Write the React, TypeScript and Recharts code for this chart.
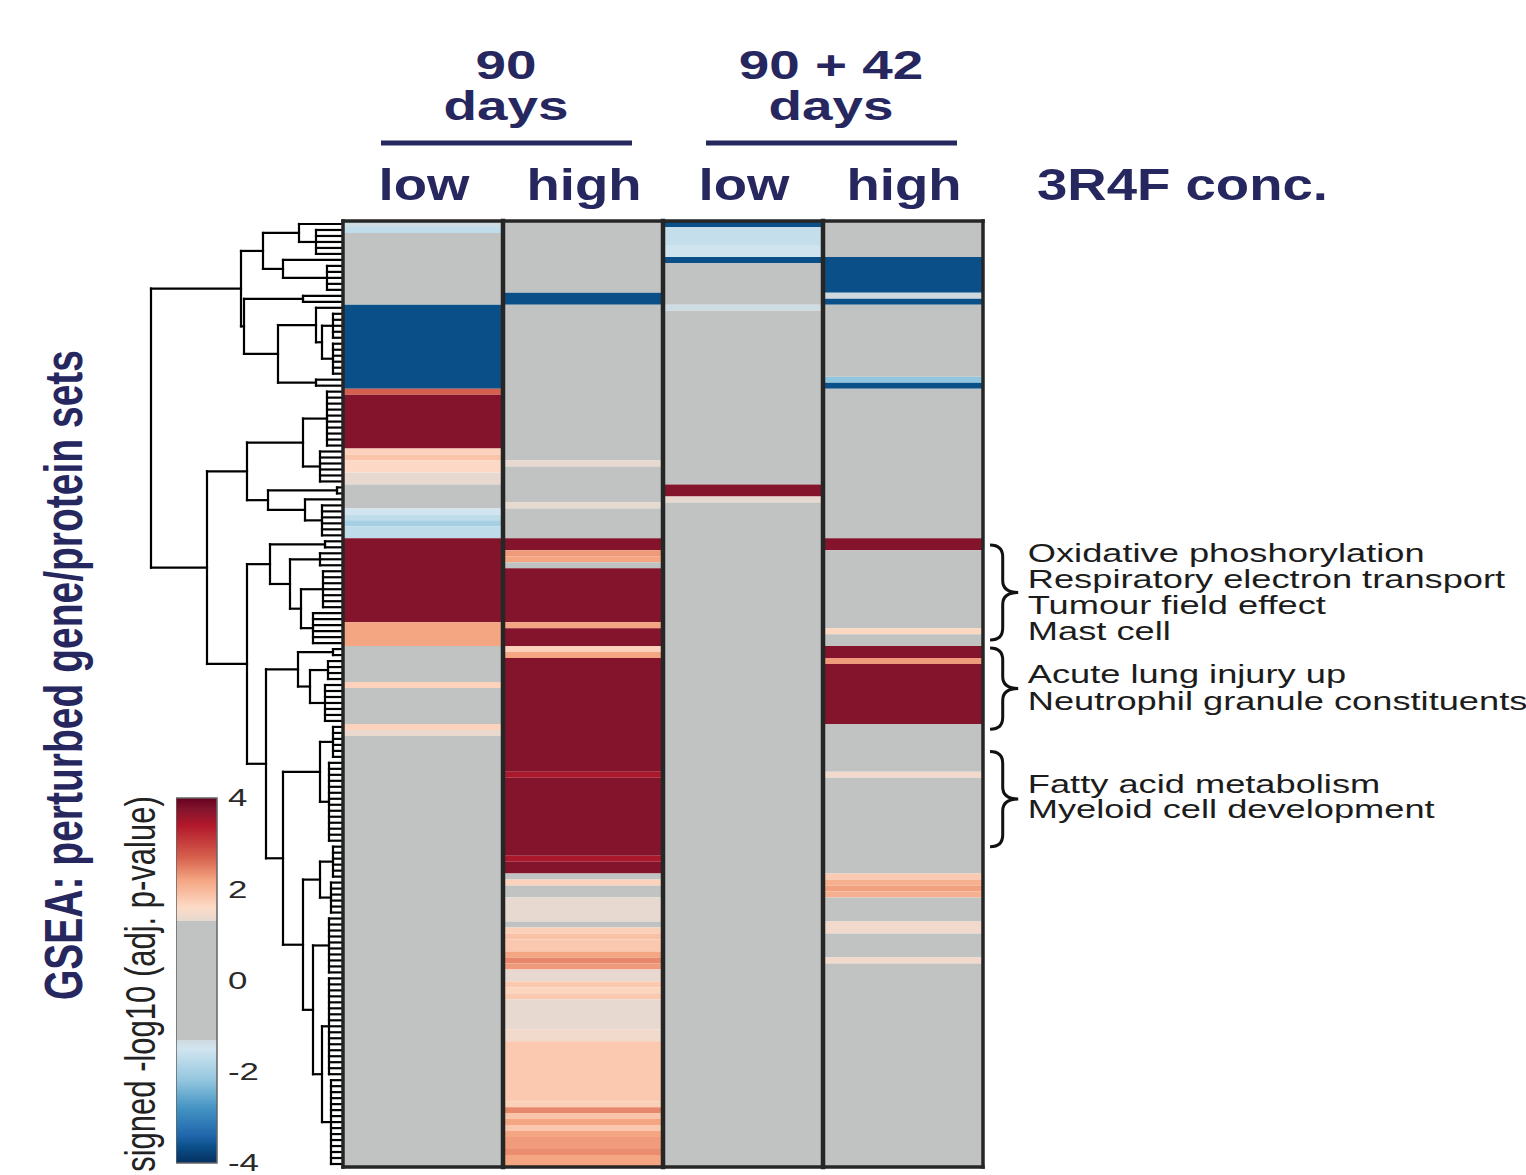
import React from "react"
import { ComposedChart, XAxis, YAxis, ReferenceArea, ReferenceLine, ReferenceDot, Scatter } from "recharts"

// ---- data ----
const N_ROWS = 158
const timeGroups = [["90", "days"], ["90 + 42", "days"]]
const concLevels = ["low", "high", "low", "high"]
const concTitle = "3R4F conc."

// signed -log10(adj. p-value), run-length coded top to bottom: [rows, value]
const runs90Low = [
  [1, -1.35], [1, -1.7], [12, 0], [14, -3.65], [1, 2.7], [9, 3.75], [1, 1.7], [1, 1.86], [2, 1.62], [2, 1.33],
  [4, 0], [1, -1.5], [1, -1.7], [1, -1.98], [2, -1.7], [14, 3.75], [4, 2.2], [6, 0], [1, 1.7], [6, 0],
  [1, 1.7], [1, 1.35], [72, 0],
]
const runs90High = [
  [12, 0], [2, -3.65], [26, 0], [1, 1.33], [6, 0], [1, 1.3], [5, 0], [2, 3.75], [1, 2.28], [1, 2.2],
  [1, 0], [9, 3.75], [1, 2.2], [3, 3.75], [1, 1.7], [1, 2.2], [19, 3.75], [1, 3.45], [13, 3.75], [1, 3.45],
  [2, 3.75], [1, 0], [1, 1.7], [2, 0], [4, 1.33], [1, 0], [1, 1.72], [1, 1.89], [2, 1.81], [1, 2.2],
  [1, 2.42], [1, 2.28], [2, 1.33], [1, 1.8], [1, 1.67], [1, 1.8], [5, 1.33], [2, 1.45], [10, 1.8], [1, 1.72],
  [1, 2.42], [1, 1.85], [1, 2.2], [1, 1.83], [1, 2.2], [2, 2.27], [1, 2.38], [2, 2.2],
]
const runs132Low = [
  [1, -3.65], [3, -1.65], [2, -1.52], [1, -3.65], [7, 0], [1, -1.35], [29, 0], [2, 3.75], [1, 1.33], [111, 0],
]
const runs132High = [
  [6, 0], [6, -3.65], [1, -1.3], [1, -3.65], [12, 0], [1, -2.2], [1, -3.65], [25, 0], [2, 3.75], [13, 0],
  [1, 1.65], [2, 0], [2, 3.75], [1, 2.28], [10, 3.75], [8, 0], [1, 1.45], [16, 0], [1, 1.78], [1, 2.08],
  [1, 2.23], [1, 2.08], [4, 0], [2, 1.45], [4, 0], [1, 1.45], [34, 0],
]
const columnRuns = [runs90Low, runs90High, runs132Low, runs132High]

// dendrogram: leaf = row index, b(first,last,h) = leaves joined at h, n(h, ...kids) = merge at h
type Tree = number | { h: number; span: [number, number] } | { h: number; kids: Tree[] }
const b = (s: number, e: number, h: number): Tree => ({ h, span: [s, e] })
const n = (h: number, ...kids: Tree[]): Tree => ({ h, kids })

const topLeft = n(80, n(44, 0, b(1, 5, 27)), n(60, 6, b(7, 11, 16)))
const topBlue = n(99, n(40, 12, 13), n(65, n(27, 14, n(21, b(15, 19, 10), b(20, 25, 10))), n(27, 26, 27)))
const midUp = n(96, n(40, b(28, 37, 16), b(38, 43, 23)), n(75, b(44, 45, 6), n(38, 46, b(47, 52, 21))))
const midRed = n(73, b(53, 54, 18), n(53, b(55, 57, 23), n(42, b(58, 64, 20), b(65, 70, 30))))
const lowUp = n(45, b(71, 72, 10), n(33, b(73, 76, 15), b(77, 83, 18)))
const lowDown = n(60, n(23, b(84, 89, 10), b(90, 103, 14)),
  n(40, n(23, b(104, 109, 10), b(110, 115, 12)), n(30, b(116, 125, 14), n(21, b(126, 142, 14), b(143, 157, 12)))))
const dendrogram = n(192, n(102, topLeft, topBlue), n(136, midUp, n(96, midRed, n(77, lowUp, lowDown))))

const geneSets = [
  "Oxidative phoshorylation", "Respiratory electron transport", "Tumour field effect", "Mast cell",
  "Acute lung injury up", "Neutrophil granule constituents", "Fatty acid metabolism", "Myeloid cell development",
]
const geneSetRows = [56.9, 61.3, 65.6, 70.0, 77.2, 81.6, 95.5, 99.7]
const braceSpans = [[54.1, 70.0], [71.3, 84.9], [88.6, 104.5]]

const cbarTicks = [4, 2, 0, -2, -4]

// ---- styling / geometry ----
const PLOT_TOP = 221
const PLOT_H = 946
const HEAT_LEFT = 343
const COL_W = 160
const HEAT_W = 1526 - HEAT_LEFT
const DEND_W = 203
const NAVY = "#27275f"
const FONT = "'Liberation Sans', Arial, Helvetica, sans-serif"
const GREY = "#c1c3c2"

const heatStops: [number, string][] = [
  [-4, "#053061"], [-3.65, "#0b4f88"], [-3.4, "#2166ac"], [-2.8, "#4393c3"], [-2.2, "#92c5de"],
  [-1.5, "#d1e5f0"], [-1.3, "#cdd9de"], [1.3, "#e5d9d0"], [1.6, "#fddbc7"], [2.2, "#f4a582"],
  [2.7, "#d6604d"], [3.4, "#b2182b"], [3.75, "#83142c"], [4, "#67001f"],
]

const rgb = (h: string) => [1, 3, 5].map((i) => parseInt(h.slice(i, i + 2), 16))

function heatColor(v: number) {
  if (v > -1.3 && v < 1.3) return GREY
  for (let i = 0; i < heatStops.length - 1; i++) {
    const [a, ca] = heatStops[i]
    const [bb, cb] = heatStops[i + 1]
    if (v >= a && v <= bb) {
      const t = (v - a) / (bb - a)
      const A = rgb(ca), B = rgb(cb)
      return "rgb(" + A.map((c, k) => Math.round(c + (B[k] - c) * t)).join(",") + ")"
    }
  }
  return v < 0 ? heatStops[0][1] : heatStops[heatStops.length - 1][1]
}

const cells = columnRuns.flatMap((runs, col) => {
  let r = 0
  return runs.map(([count, value]) => {
    const c = { col, start: r, end: r + count, value, x: col + 0.5, y: r + count / 2 }
    r += count
    return c
  })
})

function layoutTree(t: Tree, segs: number[][]): { y: number; h: number } {
  if (typeof t === "number") return { y: t + 0.5, h: 0 }
  if ("span" in t) {
    const [s, e] = t.span
    for (let r = s; r <= e; r++) segs.push([0, r + 0.5, t.h, r + 0.5])
    segs.push([t.h, s + 0.5, t.h, e + 0.5])
    return { y: (s + e + 1) / 2, h: t.h }
  }
  const ks = t.kids.map((k) => layoutTree(k, segs))
  ks.forEach((k) => segs.push([k.h, k.y, t.h, k.y]))
  segs.push([t.h, ks[0].y, t.h, ks[ks.length - 1].y])
  return { y: (ks[0].y + ks[ks.length - 1].y) / 2, h: t.h }
}
const dendSegs: number[][] = []
layoutTree(dendrogram, dendSegs)
const leafPoints = Array.from({ length: N_ROWS }, (_, i) => ({ x: 0, y: i + 0.5 }))
const cbarPoints = cbarTicks.map((v) => ({ x: 0.5, y: v }))

const NoShape = () => <g />

function Brace(p: any) {
  const { x, y, width, height } = p
  const xm = x + width * 0.45
  const tip = x + width
  const yc = y + height / 2
  const r = Math.min(width * 0.45, 12)
  const d = `M${x},${y} Q${xm},${y} ${xm},${y + r} L${xm},${yc - r} Q${xm},${yc} ${tip},${yc} ` +
    `Q${xm},${yc} ${xm},${yc + r} L${xm},${y + height - r} Q${xm},${y + height} ${x},${y + height}`
  return <path d={d} fill="none" stroke="#111" strokeWidth={3} />
}

const CbarTick = (p: any) => (
  <text transform={`translate(${p.x},${p.y}) scale(1.45,1)`} dominantBaseline="central"
    fontSize={24} fontFamily={FONT} fill="#2a2a2a">{p.payload.value}</text>
)

export default function App() {
  const colCenter = (i: number) => HEAT_LEFT + COL_W * (i + 0.5)
  return (
    <div style={{ position: "absolute", left: 0, top: 0, width: 1526, height: 1175, background: "#fff", overflow: "hidden" }}>
      {/* dendrogram */}
      <div style={{ position: "absolute", left: 140 - 10, top: PLOT_TOP - 10 }}>
        <ComposedChart width={DEND_W + 10} height={PLOT_H + 20} data={leafPoints}
          margin={{ top: 10, bottom: 10, left: 10, right: 0 }}>
          <XAxis type="number" dataKey="x" domain={[0, DEND_W]} reversed hide allowDataOverflow />
          <YAxis type="number" dataKey="y" domain={[0, N_ROWS]} reversed hide allowDataOverflow />
          <Scatter data={leafPoints} dataKey="y" shape={NoShape} isAnimationActive={false} />
          {dendSegs.map(([x1, y1, x2, y2], i) => (
            <ReferenceLine key={i} segment={[{ x: x1, y: y1 }, { x: x2, y: y2 }]} stroke="#000"
              strokeWidth={2.2} strokeLinecap="square" ifOverflow="visible" />
          ))}
        </ComposedChart>
      </div>

      {/* heatmap + annotations */}
      <div style={{ position: "absolute", left: HEAT_LEFT - 10, top: PLOT_TOP - 10 }}>
        <ComposedChart width={HEAT_W + 10} height={PLOT_H + 20} data={cells}
          margin={{ top: 10, bottom: 10, left: 10, right: 0 }}>
          <XAxis type="number" dataKey="x" domain={[0, HEAT_W / COL_W]} hide allowDataOverflow />
          <YAxis type="number" dataKey="y" domain={[0, N_ROWS]} reversed hide allowDataOverflow />
          <Scatter data={cells} dataKey="y" shape={NoShape} isAnimationActive={false} />
          {cells.map((c, i) => (
            <ReferenceArea key={"c" + i} x1={c.col} x2={c.col + 1} y1={c.start} y2={c.end}
              fill={heatColor(c.value)} fillOpacity={1} stroke="none" ifOverflow="visible" />
          ))}
          {[0, 1, 2, 3, 4].map((x) => (
            <ReferenceLine key={"v" + x} segment={[{ x, y: 0 }, { x, y: N_ROWS }]} stroke="#262626"
              strokeWidth={x === 0 || x === 4 ? 3.5 : 4.5} strokeLinecap="square" ifOverflow="visible" />
          ))}
          {[0, N_ROWS].map((y) => (
            <ReferenceLine key={"h" + y} segment={[{ x: 0, y }, { x: 4, y }]} stroke="#262626"
              strokeWidth={3.5} strokeLinecap="square" ifOverflow="visible" />
          ))}
          {braceSpans.map(([a, bnd], i) => (
            <ReferenceArea key={"b" + i} x1={4.044} x2={4.22} y1={a} y2={bnd} ifOverflow="visible" shape={Brace} />
          ))}
          {geneSets.map((g, i) => (
            <ReferenceDot key={"g" + i} x={4.28} y={geneSetRows[i]} ifOverflow="visible"
              shape={(p: any) => (
                <text transform={`translate(${p.cx},${p.cy}) scale(1.45,1)`} fontSize={25}
                  fontFamily={FONT} fill="#1c1c1c">{g}</text>
              )} />
          ))}
        </ComposedChart>
      </div>

      {/* colour key */}
      <div style={{ position: "absolute", left: 176, top: 798 - 20 }}>
        <ComposedChart width={41 + 60} height={365 + 32} data={cbarPoints}
          margin={{ top: 20, bottom: 12, left: 0, right: 0 }}>
          <defs>
            <linearGradient id="cbarGrad" x1="0" y1="0" x2="0" y2="1">
              {[...heatStops].reverse().filter(([v]) => v >= 1.3).map(([v, c]) => (
                <stop key={"p" + v} offset={(4 - v) / 8} stopColor={c} />
              ))}
              <stop offset={(4 - 1.3) / 8} stopColor={GREY} />
              <stop offset={(4 + 1.3) / 8} stopColor={GREY} />
              {[...heatStops].reverse().filter(([v]) => v <= -1.3).map(([v, c]) => (
                <stop key={"n" + v} offset={(4 - v) / 8} stopColor={c} />
              ))}
            </linearGradient>
          </defs>
          <XAxis type="number" dataKey="x" domain={[0, 1]} hide />
          <YAxis type="number" dataKey="y" orientation="right" domain={[-4, 4]} ticks={cbarTicks} interval={0} width={60}
            tickLine={false} axisLine={false} tickMargin={5} tick={CbarTick} />
          <Scatter data={cbarPoints} dataKey="y" shape={NoShape} isAnimationActive={false} />
          <ReferenceArea x1={0} x2={1} y1={-4} y2={4} fill="url(#cbarGrad)" fillOpacity={1} stroke="#666" strokeWidth={1.5} />
        </ComposedChart>
      </div>

      {/* titles and column headers */}
      <svg width={1526} height={1175} style={{ position: "absolute", left: 0, top: 0, pointerEvents: "none" }}>
        {timeGroups.map((lines, gi) => {
          const cx = (colCenter(gi * 2) + colCenter(gi * 2 + 1)) / 2 + 3 + gi * 5
          return (
            <g key={gi}>
              {lines.map((t, li) => (
                <text key={li} transform={`translate(${cx},${79 + li * 41}) scale(1.37,1)`} textAnchor="middle"
                  fontSize={40} fontWeight="bold" fontFamily={FONT} fill={NAVY}>{t}</text>
              ))}
              <line x1={cx - 125} x2={cx + 126} y1={143} y2={143} stroke={NAVY} strokeWidth={5} />
            </g>
          )
        })}
        {concLevels.map((t, i) => (
          <text key={i} transform={`translate(${colCenter(i) + 1},200) scale(1.24,1)`} textAnchor="middle"
            fontSize={44} fontWeight="bold" fontFamily={FONT} fill={NAVY}>{t}</text>
        ))}
        <text transform="translate(1037,200) scale(1.24,1)" fontSize={44} fontWeight="bold" fontFamily={FONT} fill={NAVY}>
          {concTitle}
        </text>
        <text transform="translate(82,675) scale(1.4,1) rotate(-90)" textAnchor="middle" fontSize={39}
          fontWeight="bold" fontFamily={FONT} fill={NAVY}>GSEA: perturbed gene/protein sets</text>
        <text transform="translate(155,984) scale(1.35,1) rotate(-90)" textAnchor="middle" fontSize={31}
          fontFamily={FONT} fill="#222">signed -log10 (adj. p-value)</text>
      </svg>
    </div>
  )
}
